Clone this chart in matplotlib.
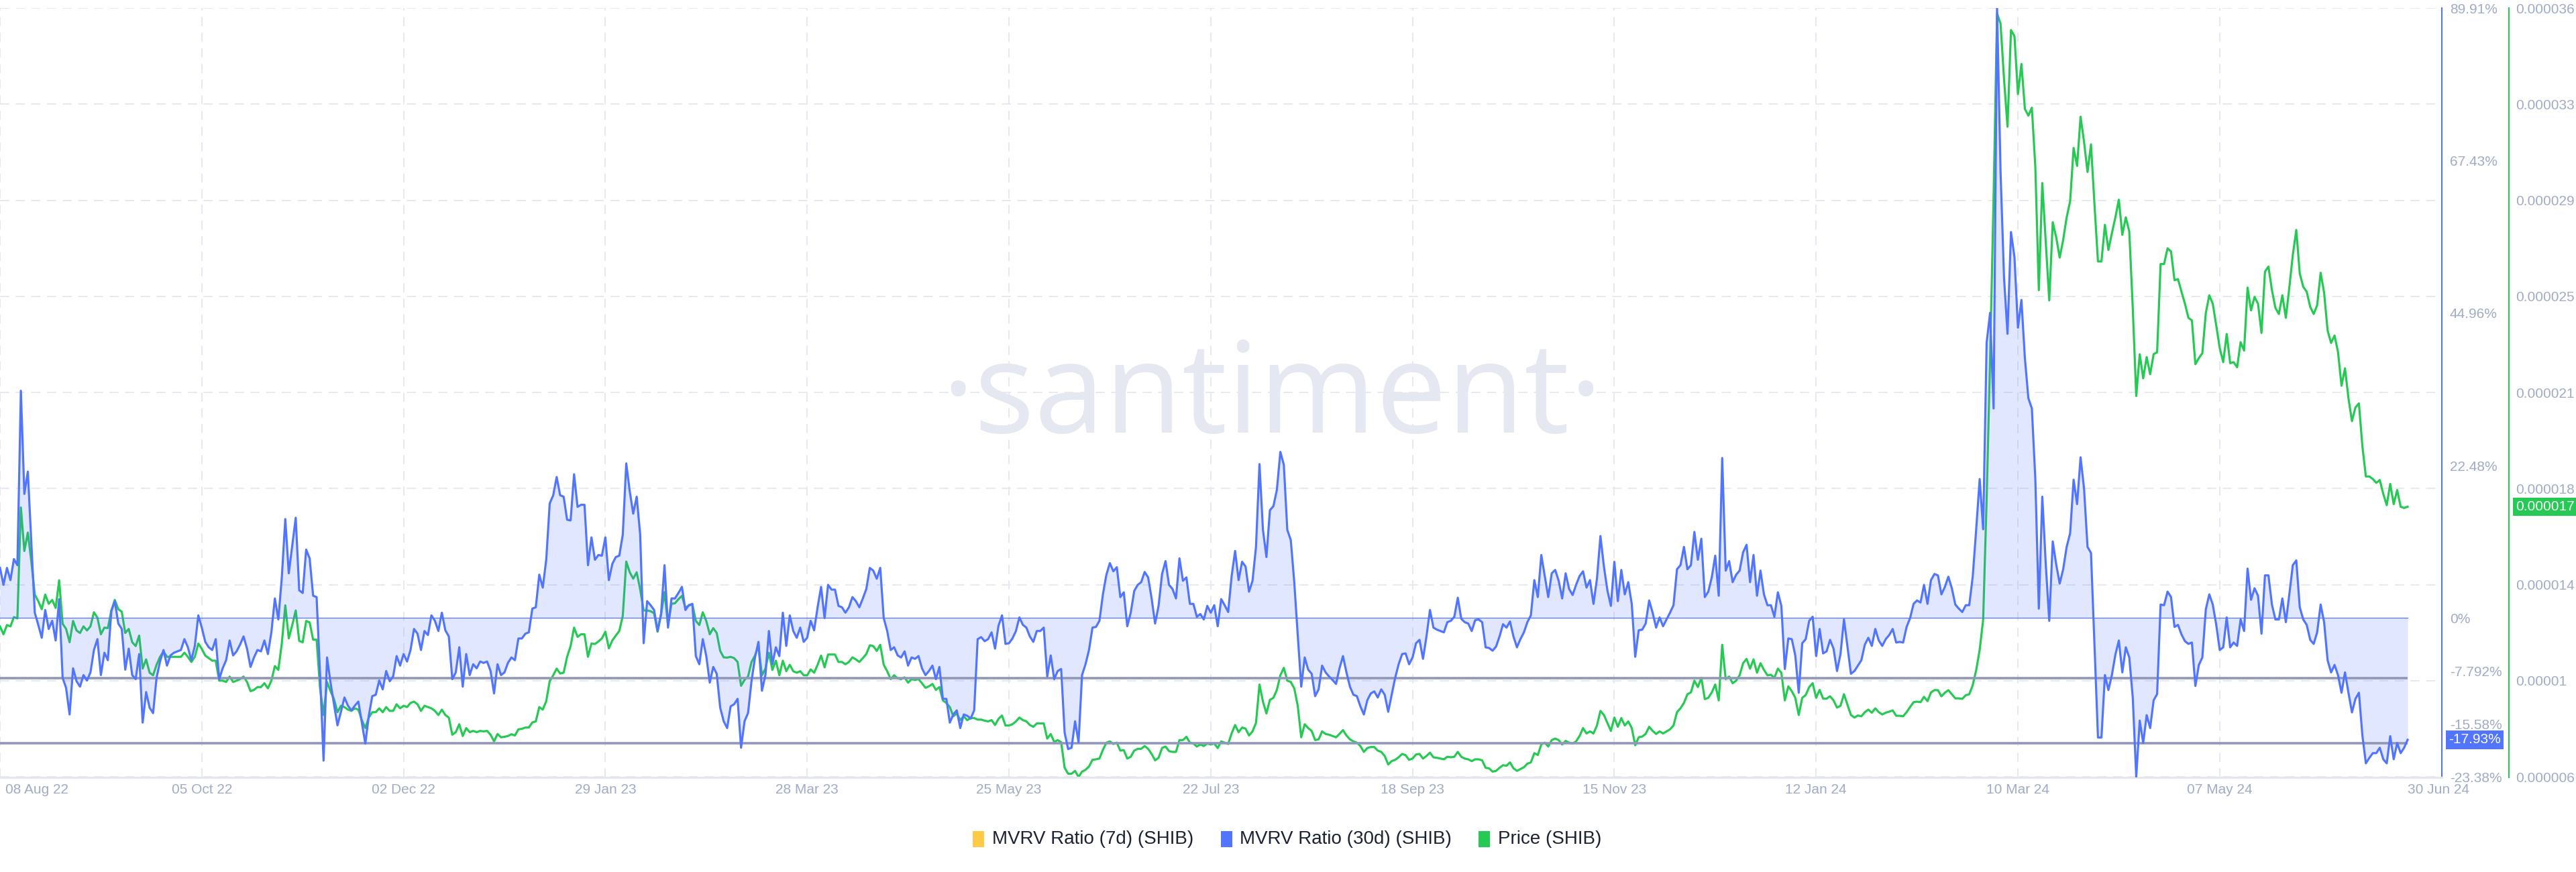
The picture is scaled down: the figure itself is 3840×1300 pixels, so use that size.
import numpy as np
import pandas as pd
import matplotlib
matplotlib.use("Agg")
import matplotlib.pyplot as plt
from matplotlib.patches import Rectangle
from matplotlib.transforms import blended_transform_factory, ScaledTranslation

# ---------------- data ----------------
start_date = "2022-08-08"
end_date = "2024-06-30"

# MVRV Ratio (30d) (SHIB), percent, one value per day
mvrv_30d_pct = [
    # 08 Aug 22 ..
    7.4, 4.9, 7.4, 5.6, 8.7, 7.8, 33.5, 18.3, 21.6, 11.1,
    0.8, -1.0, -2.9, 1.2, -1.6, -0.4, -3.3, 2.8, -8.8, -10.3,
    -14.2, -7.4, -9.3, -10.1, -8.4, -9.2, -8.0, -4.7, -3.1, -8.4,
    -5.1, -6.2, 1.0, 2.5, -0.8, -1.6, -7.6, -4.5, -8.4, -9.0,
    -5.3, -15.4, -10.9, -13.2, -14.0, -8.8, -6.4, -4.7, -7.0, -5.5,
    -5.1, -4.9, -4.7, -3.1, -4.3, -6.2, -4.1, 0.4, -1.4, -3.5,
    -4.3, -4.7, -3.1, -9.0, -7.4, -6.2, -3.3, -5.5, -4.9, -3.9,
    -2.7, -4.5, -7.2, -5.8, -4.7, -4.9, -3.3, -5.3, -2.1, 2.9,
    -0.2, 6.0, 14.6, 6.6, 10.7, 14.8, 4.1, 3.7, 10.1, 8.8,
    3.3, 3.1, -8.4, -21.0, -5.8, -9.5, -12.7, -15.8, -13.8, -11.7,
    -12.9, -13.6, -12.9, -12.3, -15.4, -18.5, -14.4, -11.5, -11.3, -9.2,
    -10.5, -7.8, -9.3, -8.6, -5.6, -7.0, -5.3, -6.4, -4.7, -1.6,
    -2.3, -4.7, -1.9, -2.5, 0.4, -0.4, -1.9, 0.8, -1.8, -2.7,
    -9.0, -8.0, -4.3, -10.1, -5.3, -8.4, -6.8, -7.4, -6.4,
    # Dec 22 ..
    -6.6, -6.4, -7.8, -11.1, -6.8, -8.4, -8.0, -6.6, -5.8, -6.2,
    -3.0, -3.0, -2.3, -2.1, 1.4, 1.6, 6.4, 4.5, 8.6, 16.9,
    18.1, 20.8, 18.1, 17.9, 14.5, 14.4, 21.2, 16.4, 16.7, 16.7,
    7.8, 11.9, 8.6, 9.3, 9.2, 11.9, 5.6, 8.0, 9.0, 9.2,
    12.3, 22.8, 18.7, 15.4, 17.9, 12.3, -3.7, 2.5, 1.9, 1.2,
    -1.9, 0.6, 7.8, -1.4, 2.9, 2.9, 3.7, 4.6, 1.2, 1.9,
    2.1, -5.6, -6.8, -3.1, -5.6, -9.5, -7.2, -8.2, -13.2, -15.2,
    -16.2, -13.0, -12.7, -11.9, -19.1, -15.2, -14.0, -9.3, -5.8, -3.5,
    -10.7, -8.4, -1.9, -6.8, -4.3, -5.6, 0.8, -4.1, 0.4, -1.9,
    -2.9, -1.4, -3.5, -2.9, -0.4, -1.8, 1.6, 4.6, 0.0, 4.9,
    4.2, 4.2, 1.8, 1.6, 0.8, 1.6, 3.1, 2.5, 1.6, 2.9,
    4.3, 7.4, 7.0, 5.8, 7.4, 0.0, -1.9, -4.7, -4.3, -5.5,
    -5.8, -4.9, -7.0, -5.8, -6.0, -5.6, -7.4, -8.4, -7.8, -7.0,
    -9.0, -7.2, -11.9, -11.9, -15.4, -14.2, -13.6, -16.2, -14.2,
    # May 23 ..
    -14.4, -14.8, -13.6, -3.1, -2.8, -3.4, -3.1, -2.1, -4.5, -1.1,
    0.4, -3.8, -3.7, -3.0, -1.9, 0.1, -1.0, -1.4, -2.7, -3.5,
    -1.9, -1.9, -1.4, -8.6, -5.5, -9.0, -7.8, -7.5, -16.9, -19.3,
    -19.1, -15.2, -18.3, -8.4, -6.8, -4.7, -1.4, -1.3, -0.4, 3.5,
    6.4, 8.1, 6.9, 7.5, 3.1, 3.8, -1.2, 0.8, 4.0, 4.9,
    5.3, 6.8, 6.0, 2.9, -0.8, 1.8, 6.5, 8.4, 4.9, 4.3,
    2.9, 8.8, 5.5, 6.0, 2.1, 2.1, 0.2, 0.6, -0.2, 1.8,
    0.8, 1.9, -1.2, 2.8, 1.9, 0.9, 6.2, 9.9, 5.6, 8.3,
    7.6, 3.9, 5.5, 10.5, 22.7, 13.0, 9.0, 15.9, 16.5, 18.9,
    24.5, 22.6, 13.0, 11.5, 5.3, -2.5, -10.1, -5.8, -7.6, -8.2,
    -11.5, -10.5, -7.0, -8.0, -8.6, -9.1, -9.7, -7.4, -5.6, -8.0,
    -10.1, -11.3, -11.5, -13.0, -14.2, -12.1, -11.1, -10.8, -11.7, -10.5,
    -11.3, -13.8, -11.3, -8.8, -6.8, -5.3, -5.2, -6.8, -5.8, -3.7,
    -3.2, -6.0, -2.7, 1.2, -1.4, -1.7, -1.9, -2.1, -0.6,
    # Sep 23 ..
    -0.4, 0.2, 3.0, -0.1, -0.6, -0.8, -1.9, -0.3, -0.2, -0.6,
    -4.3, -4.4, -4.8, -4.2, -2.7, -0.9, -1.4, -0.5, -2.7, -4.3,
    -3.1, -2.1, -0.6, 0.4, 5.6, 3.1, 9.3, 6.2, 3.1, 6.6,
    7.1, 5.5, 2.9, 6.6, 4.3, 3.4, 4.9, 6.2, 6.9, 4.5,
    5.6, 2.1, 5.8, 12.1, 7.6, 4.1, 1.8, 8.3, 2.5, 7.1,
    3.5, 5.3, 2.1, -5.7, -1.8, -1.7, -0.8, 2.6, 0.8, -1.4,
    0.1, -1.2, -0.2, 0.8, 1.9, 7.2, 7.8, 10.5, 7.2, 7.8,
    12.7, 8.6, 11.7, 3.1, 3.9, 6.0, 9.2, 3.3, 23.6, 7.0,
    8.4, 5.3, 6.4, 7.0, 9.7, 10.8, 5.3, 9.3, 3.3, 7.0,
    3.5, 1.9, 1.9, 0.2, 3.8, 1.8, -7.5, -3.0, -3.1, -5.5,
    -11.0, -3.7, -3.1, -0.4, 0.2, -5.6, -1.6, -5.2, -4.9, -3.2,
    -4.5, -7.8, -5.3, -0.2, -4.2, -8.2, -7.8, -7.0, -6.2, -3.9,
    -2.9, -4.1, -1.6, -3.3, -4.1, -3.1, -2.5, -1.6, -3.6, -3.5,
    -3.6, -1.3, 0.0, 2.1, 2.6, 2.3, 4.9, 2.1, 5.6,
    # Feb 24 ..
    6.5, 6.3, 3.5, 4.6, 6.1, 4.4, 2.0, 1.4, 0.9, 1.9,
    1.9, 6.1, 13.1, 20.5, 13.1, 40.6, 45.0, 30.9, 89.91, 65.8,
    50.2, 41.9, 56.9, 53.2, 42.8, 46.9, 38.3, 32.4, 30.9, 20.5,
    1.4, 17.9, 7.9, -0.4, 11.3, 7.9, 5.1, 7.2, 10.5, 12.5,
    20.4, 16.8, 23.7, 19.1, 10.5, 9.6, -3.9, -17.6, -17.6, -8.4,
    -10.6, -8.4, -5.4, -3.3, -8.0, -4.3, -5.8, -11.7, -23.38, -15.1,
    -18.4, -14.3, -16.2, -12.1, -11.2, 2.0, 1.9, 3.9, 3.1, -1.3,
    -1.0, -2.4, -3.4, -3.8, -3.6, -10.0, -6.9, -5.8, 1.3, 3.5,
    2.0, -1.0, -4.7, -4.3, 0.1, -4.3, -3.6, -4.1, -0.2, -1.9,
    7.3, 2.7, 4.4, 3.3, -2.3, 6.3, 6.3, 2.0, -0.2, -0.2,
    2.9, -0.6, 3.5, 7.8, 8.5, 1.6, -0.2, -1.0, -3.2, -3.8,
    -2.1, 2.0, -0.6, -6.2, -8.0, -6.9, -8.4, -11.0, -8.0, -11.0,
    -13.9, -11.9, -11.0, -17.3, -21.4, -20.6, -19.9, -19.9, -19.1, -20.8,
    -21.4, -17.4, -20.8, -18.4, -19.9, -19.1, -17.93,
]

# Price (SHIB) in millionths of a US dollar, one value per day
price_shib_micro = [
    12.27, 11.96, 12.32, 12.27, 12.63, 12.58, 16.91, 15.21, 15.93, 14.80,
    13.51, 13.25, 12.94, 13.51, 13.15, 13.30, 12.99, 14.07, 12.37, 12.17,
    11.65, 12.48, 12.11, 12.01, 12.27, 12.11, 12.27, 12.82, 12.61, 11.96,
    12.22, 12.20, 12.89, 13.30, 12.94, 12.84, 12.01, 12.17, 11.65, 11.50,
    11.91, 10.62, 10.98, 10.46, 10.36, 10.77, 11.08, 11.29, 11.08, 11.08,
    11.08, 11.08, 11.08, 11.24, 11.08, 10.88, 11.08, 11.60, 11.39, 11.13,
    11.03, 10.93, 10.93, 10.15, 10.15, 10.10, 10.31, 10.10, 10.15, 10.21,
    10.31, 10.10, 9.74, 9.79, 9.90, 9.90, 10.05, 9.85, 10.15, 10.72,
    10.57, 11.60, 13.09, 11.80, 12.32, 12.89, 11.70, 11.65, 12.48, 12.42,
    11.75, 11.75, 9.85, 8.81, 10.10, 9.74, 9.43, 8.92, 9.17, 9.12,
    9.02, 8.97, 9.07, 9.02, 8.61, 8.30, 8.71, 8.92, 8.92, 9.07,
    8.92, 9.12, 8.97, 8.97, 9.23, 9.07, 9.17, 9.12, 9.28, 9.33,
    9.23, 8.97, 9.17, 9.12, 9.07, 8.97, 8.81, 9.02, 8.81, 8.71,
    8.04, 8.14, 8.45, 7.99, 8.30, 8.14, 8.19, 8.14, 8.19,
    # Dec 22 ..
    8.17, 8.19, 8.04, 7.78, 8.07, 7.94, 7.96, 7.99, 8.06, 8.01,
    8.25, 8.27, 8.32, 8.32, 8.52, 8.56, 9.12, 9.02, 9.35, 10.13,
    10.36, 10.62, 10.43, 10.46, 11.08, 11.50, 12.22, 11.86, 11.96, 11.96,
    11.08, 11.60, 11.58, 11.68, 11.80, 12.06, 11.41, 11.72, 11.91, 12.09,
    12.68, 14.80, 14.38, 14.13, 14.38, 13.71, 12.89, 12.89, 12.86, 12.78,
    12.06, 12.73, 13.61, 12.32, 13.15, 13.17, 13.33, 13.46, 12.99, 13.09,
    13.13, 12.48, 12.32, 12.82, 12.48, 11.96, 12.20, 12.01, 11.31, 11.06,
    11.05, 11.08, 11.03, 10.88, 9.95, 10.18, 10.31, 10.88, 11.13, 11.50,
    10.36, 10.62, 11.24, 10.57, 10.93, 10.36, 10.93, 10.52, 10.77, 10.52,
    10.46, 10.52, 10.36, 10.36, 10.59, 10.46, 10.77, 11.13, 10.67, 11.17,
    11.17, 11.17, 10.88, 10.88, 10.79, 10.88, 11.06, 10.98, 10.88, 11.03,
    11.19, 11.53, 11.50, 11.31, 11.55, 10.77, 10.52, 10.21, 10.36, 10.24,
    10.21, 10.28, 10.07, 10.21, 10.18, 10.21, 10.05, 9.87, 9.93, 10.02,
    9.79, 9.90, 9.38, 9.28, 9.12, 8.76, 8.87, 8.61, 8.76,
    # May 23 ..
    8.61, 8.69, 8.69, 8.63, 8.63, 8.59, 8.56, 8.61, 8.42, 8.66,
    8.79, 8.40, 8.40, 8.45, 8.56, 8.71, 8.61, 8.56, 8.42, 8.35,
    8.48, 8.48, 8.48, 7.89, 8.07, 7.76, 7.83, 7.75, 6.75, 6.52,
    6.52, 6.63, 6.39, 6.60, 6.67, 6.80, 7.06, 7.08, 7.11, 7.45,
    7.73, 7.78, 7.68, 7.73, 7.42, 7.44, 7.11, 7.18, 7.42, 7.49,
    7.49, 7.60, 7.49, 7.29, 7.04, 7.14, 7.52, 7.58, 7.40, 7.37,
    7.37, 7.83, 7.83, 7.96, 7.73, 7.70, 7.58, 7.66, 7.60, 7.70,
    7.66, 7.70, 7.52, 7.78, 7.73, 7.68, 8.09, 8.42, 8.14, 8.32,
    8.28, 8.01, 8.17, 8.50, 10.00, 9.33, 8.87, 9.40, 9.48, 9.79,
    10.36, 10.65, 10.15, 10.10, 9.85, 9.17, 7.94, 8.45, 8.30, 8.19,
    7.83, 7.86, 8.17, 8.07, 8.04, 7.99, 7.94, 8.07, 8.22, 8.01,
    7.86, 7.78, 7.73, 7.60, 7.37, 7.52, 7.56, 7.56, 7.42, 7.37,
    7.21, 6.88, 7.01, 7.06, 7.16, 7.29, 7.24, 7.06, 7.11, 7.27,
    7.29, 7.11, 7.21, 7.34, 7.16, 7.14, 7.11, 7.08, 7.18,
    # Sep 23 ..
    7.16, 7.18, 7.37, 7.18, 7.11, 7.08, 7.01, 7.08, 7.08, 7.04,
    6.75, 6.73, 6.60, 6.63, 6.75, 6.85, 6.83, 6.96, 6.73, 6.63,
    6.70, 6.77, 6.91, 6.96, 7.32, 7.25, 7.66, 7.73, 7.58, 7.83,
    7.89, 7.83, 7.66, 7.80, 7.73, 7.70, 7.78, 7.99, 8.30, 8.09,
    8.17, 8.09, 8.40, 8.97, 8.81, 8.50, 8.19, 8.71, 8.35, 8.69,
    8.40, 8.56, 8.30, 7.63, 7.94, 7.97, 8.07, 8.35, 8.19, 8.07,
    8.17, 8.09, 8.17, 8.25, 8.40, 8.92, 9.07, 9.28, 9.62, 9.69,
    10.15, 9.90, 10.26, 9.43, 9.48, 9.69, 10.00, 9.38, 11.55, 10.21,
    10.31, 10.05, 10.15, 10.36, 10.83, 11.00, 10.62, 10.98, 10.46, 10.83,
    10.57, 10.36, 10.38, 10.26, 10.62, 10.46, 9.38, 9.93, 9.74, 9.48,
    8.81, 9.48, 9.59, 9.90, 10.05, 9.48, 9.79, 9.45, 9.45, 9.54,
    9.38, 9.10, 9.17, 9.62, 9.21, 8.81, 8.71, 8.79, 8.76, 8.92,
    9.02, 8.90, 9.07, 8.92, 8.83, 8.90, 8.94, 8.99, 8.78, 8.78,
    8.76, 8.92, 9.12, 9.31, 9.33, 9.31, 9.52, 9.35, 9.69,
    # Feb 24 ..
    9.78, 9.78, 9.54, 9.68, 9.78, 9.62, 9.46, 9.46, 9.44, 9.58,
    9.62, 9.97, 10.56, 11.35, 12.53, 17.24, 22.74, 29.02, 36.19, 35.79,
    33.63, 31.77, 35.54, 35.30, 33.04, 34.22, 32.46, 32.20, 32.51, 30.20,
    25.39, 29.57, 27.25, 24.99, 28.04, 27.45, 26.66, 27.35, 28.23, 28.86,
    30.94, 30.24, 32.16, 31.18, 30.00, 31.08, 28.73, 26.51, 26.51, 27.94,
    26.96, 27.61, 28.23, 28.92, 27.55, 28.23, 27.68, 24.70, 21.26, 22.89,
    21.95, 22.78, 22.11, 22.89, 22.97, 26.41, 26.41, 27.02, 26.90, 25.78,
    25.82, 25.33, 24.86, 24.31, 24.21, 22.50, 22.74, 22.93, 24.50, 25.19,
    24.86, 24.01, 23.13, 22.58, 23.68, 22.54, 22.58, 22.38, 23.36, 23.03,
    25.49, 24.60, 25.13, 24.86, 23.72, 26.11, 26.31, 25.39, 24.70, 24.46,
    25.19, 24.31, 25.49, 26.76, 27.74, 26.04, 25.52, 25.33, 24.74, 24.46,
    24.80, 26.07, 25.29, 23.82, 23.33, 23.62, 22.97, 21.66, 22.34, 21.17,
    20.28, 20.81, 20.97, 19.30, 18.12, 18.12, 18.02, 17.87, 17.98, 17.44,
    17.00, 17.83, 17.04, 17.59, 16.94, 16.89, 16.94,
]

x_tick_dates = ["2022-08-08", "2022-10-05", "2022-12-02", "2023-01-29", "2023-03-28",
                "2023-05-25", "2023-07-22", "2023-09-18", "2023-11-15", "2024-01-12",
                "2024-03-10", "2024-05-07", "2024-06-30"]
x_tick_labels = ["08 Aug 22", "05 Oct 22", "02 Dec 22", "29 Jan 23", "28 Mar 23",
                 "25 May 23", "22 Jul 23", "18 Sep 23", "15 Nov 23", "12 Jan 24",
                 "10 Mar 24", "07 May 24", "30 Jun 24"]

mvrv_ticks = [89.91, 67.43, 44.96, 22.48, 0, -7.792, -15.58, -23.38]
mvrv_tick_labels = ["89.91%", "67.43%", "44.96%", "22.48%", "0%", "-7.792%", "-15.58%", "-23.38%"]
mvrv_axis_range = (-23.38, 89.91)

price_axis_range_micro = (6.4, 36.4)
price_tick_labels = ["0.000006", "0.00001", "0.000014", "0.000018", "0.000021",
                     "0.000025", "0.000029", "0.000033", "0.000036"]

reference_levels_pct = [-8.8, -18.4]

legend_labels = ["MVRV Ratio (7d) (SHIB)", "MVRV Ratio (30d) (SHIB)", "Price (SHIB)"]

# ---------------- styling ----------------
BLUE = "#5275ff"
GREEN = "#26c953"
YELLOW = "#ffcb47"
REF_GRAY = "#9097b8"
GRID = "#e6e9f2"
LABEL = "#a1abc4"
TEXT_DARK = "#1c2233"
WATERMARK = "#e5e8f1"

REGULAR = ["Liberation Sans", "DejaVu Sans"]
plt.rcParams["font.family"] = REGULAR

W, H, DPI = 3840, 1300, 100
def pt(px):
    return px * 72.0 / DPI

dates = pd.date_range(start_date, end_date, freq="D")
mvrv = np.array(mvrv_30d_pct, dtype=float)
price = np.array(price_shib_micro, dtype=float) * 1e-6
n = min(len(dates), len(mvrv), len(price))
dates, mvrv, price = dates[:n], mvrv[:n], price[:n]

fig = plt.figure(figsize=(W / DPI, H / DPI), dpi=DPI)
fig.patch.set_facecolor("white")

AX_TOP, AX_BOTTOM, AX_RIGHT, PRICE_SPINE = 12, 1159, 3640, 3740
ax = fig.add_axes([0, (H - AX_BOTTOM) / H, AX_RIGHT / W, (AX_BOTTOM - AX_TOP) / H])
ax2 = ax.twinx()
ax.set_zorder(2)
ax2.set_zorder(1)
ax.patch.set_visible(False)

# x scale: data ends at 3589 px of a 3640 px wide axes
px_per_day = 3589.0 / (len(dates) - 1)
right_days = AX_RIGHT / px_per_day
ax.set_xlim(dates[0], dates[0] + pd.Timedelta(days=right_days))

# MVRV scale (1 px beyond the -23.38 tick at the bottom)
mv_span = mvrv_axis_range[1] - mvrv_axis_range[0]
mv_px = (1158 - AX_TOP) / mv_span
ax.set_ylim(mvrv_axis_range[0] - (AX_BOTTOM - 1158) / mv_px, mvrv_axis_range[1])

pr_lo, pr_hi = price_axis_range_micro
pr_px = (1158 - AX_TOP) / (pr_hi - pr_lo)
ax2.set_ylim((pr_lo - (AX_BOTTOM - 1158) / pr_px) * 1e-6, pr_hi * 1e-6)

# ---- background layer (ax2): grid, watermark, price ----
price_ticks = np.linspace(pr_lo, pr_hi, len(price_tick_labels)) * 1e-6
ax2.set_yticks(price_ticks)
ax2.set_yticklabels(price_tick_labels)
ax2.yaxis.grid(True, color=GRID, lw=1.4, ls=(0, (7, 5)), zorder=0)
ax2.set_axisbelow(True)
for d in x_tick_dates[:-1]:
    ax2.axvline(pd.Timestamp(d), color=GRID, lw=1.4, ls=(0, (7, 5)), zorder=0)

wm = ax2.text(1896 / W, 1 - 645 / H, "\u00b7santiment\u00b7", transform=fig.transFigure,
              ha="center", va="baseline", fontsize=100, color=WATERMARK,
              family=["Open Sans", "Lato", "DejaVu Sans"], weight="normal", zorder=0.5)

ax2.plot(dates, price, color=GREEN, lw=2.3, zorder=3, solid_joinstyle="round")

# ---- foreground layer (ax): MVRV ----
ax.fill_between(dates, mvrv, 0, color=BLUE, alpha=0.17, lw=0, zorder=1)
ax.plot([dates[0], dates[-1]], [0, 0], color=BLUE, lw=0.9, zorder=2)
ax.hlines(reference_levels_pct, dates[0], dates[-1], color=REF_GRAY, lw=2.6, zorder=2)
ax.plot(dates, mvrv, color=BLUE, lw=2.3, zorder=3, solid_joinstyle="round")

# ---- spines ----
for s in ("top", "left"):
    ax.spines[s].set_visible(False)
ax.spines["right"].set_color(BLUE)
ax.spines["right"].set_linewidth(1.5)
ax.spines["bottom"].set_color("#e3e6ee")
ax.spines["bottom"].set_linewidth(2.3)
for s in ("top", "left", "bottom"):
    ax2.spines[s].set_visible(False)
ax2.spines["right"].set_position(("axes", PRICE_SPINE / AX_RIGHT))
ax2.spines["right"].set_color(GREEN)
ax2.spines["right"].set_linewidth(1.5)

# ---- ticks ----
ax.yaxis.tick_right()
ax.set_yticks(mvrv_ticks)
ax.set_yticklabels(mvrv_tick_labels)
ax.tick_params(axis="y", length=0, pad=pt(12), labelsize=15, labelcolor=LABEL)
ax2.tick_params(axis="y", length=0, pad=pt(10), labelsize=15, labelcolor=LABEL)

ax.set_xticks(pd.to_datetime(x_tick_dates))
ax.set_xticklabels(x_tick_labels)
ax.tick_params(axis="x", length=0, pad=pt(9), labelsize=15, labelcolor=LABEL)
xl = ax.get_xticklabels()
xl[0].set_ha("left")
xl[0].set_transform(xl[0].get_transform() + ScaledTranslation(8 / DPI, 0, fig.dpi_scale_trans))
xl[-1].set_ha("left")

# ---- last-value badges ----
tr1 = blended_transform_factory(ax.transAxes, ax.transData)
ax.text((AX_RIGHT + 10) / AX_RIGHT, mvrv[-1], f"{mvrv[-1]:.2f}%", transform=tr1,
        ha="left", va="center", fontsize=15, color="white", clip_on=False, zorder=10,
        bbox=dict(boxstyle="square,pad=0.2", fc=BLUE, ec="none"))
tr2 = blended_transform_factory(ax2.transAxes, ax2.transData)
ax2.text((PRICE_SPINE + 10) / AX_RIGHT, price[-1], f"{price[-1]:.6f}", transform=tr2,
         ha="left", va="center", fontsize=15, color="white", clip_on=False, zorder=10,
         bbox=dict(boxstyle="square,pad=0.2", fc=GREEN, ec="none"))

# ---- legend (bottom centre), laid out from measured text widths ----
LEG_Y, LEG_CX = 1251, 1919
SQ_W, SQ_H, SQ_GAP, ITEM_GAP = 17, 24, 12, 40
legend_colors = [YELLOW, BLUE, GREEN]
texts = [fig.text(0, 1 - LEG_Y / H, lab, ha="left", va="center", fontsize=20,
                  color=TEXT_DARK) for lab in legend_labels]
fig.canvas.draw()
renderer = fig.canvas.get_renderer()
widths = [t.get_window_extent(renderer).width for t in texts]
total = sum(SQ_W + SQ_GAP + w for w in widths) + ITEM_GAP * (len(widths) - 1)
x = LEG_CX - total / 2
for t, w, col in zip(texts, widths, legend_colors):
    fig.patches.append(Rectangle((x / W, 1 - (LEG_Y + SQ_H / 2) / H), SQ_W / W, SQ_H / H,
                                 transform=fig.transFigure, facecolor=col, edgecolor="none"))
    t.set_x((x + SQ_W + SQ_GAP) / W)
    x += SQ_W + SQ_GAP + w + ITEM_GAP

# size the watermark to its width in the reference
bb = wm.get_window_extent(renderer)
wm.set_fontsize(100 * 985.0 / bb.width)

fig.savefig("out.png", dpi=DPI, facecolor="white")
